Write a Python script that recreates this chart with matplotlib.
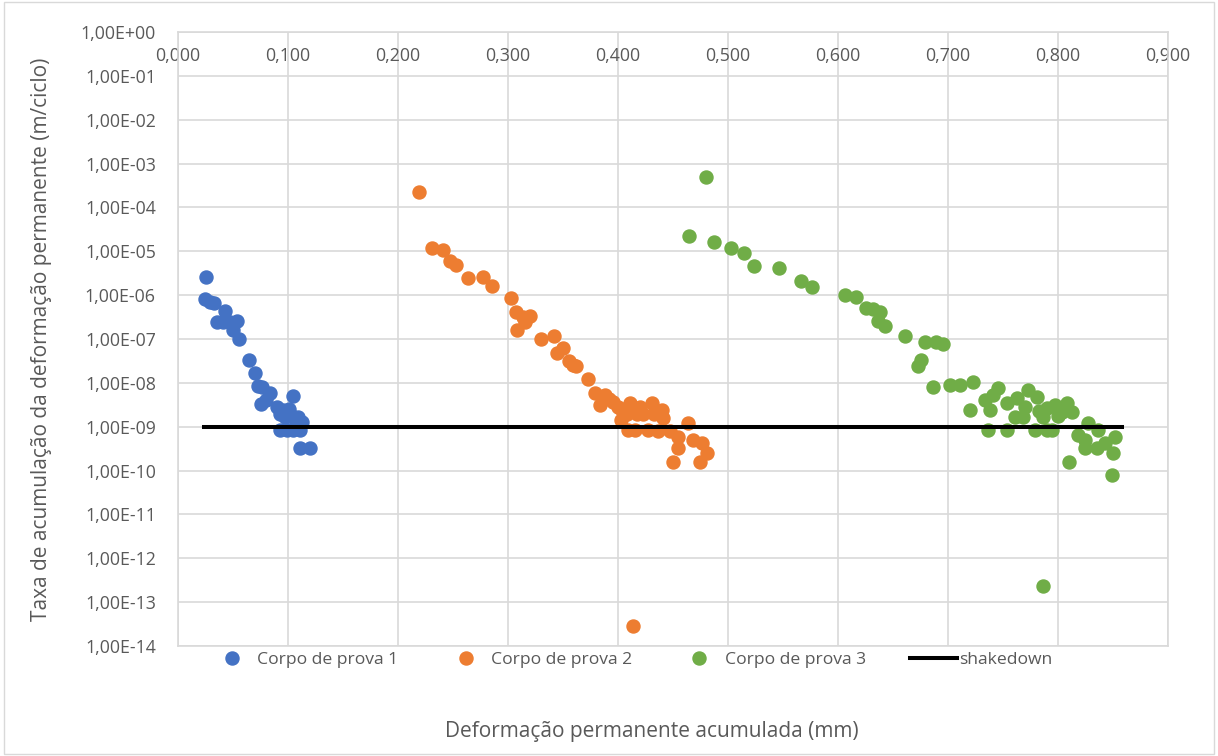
import numpy as np
import matplotlib
matplotlib.use("Agg")
import matplotlib.pyplot as plt
from matplotlib.ticker import FixedLocator, FuncFormatter, MultipleLocator
from matplotlib.lines import Line2D
from matplotlib.patches import Rectangle

plt.rcParams['font.family'] = ['Open Sans', 'DejaVu Sans']

# Corpo de prova 1
x1 = [0.0255, 0.0245, 0.029, 0.033, 0.043, 0.0355, 0.041, 0.047, 0.0535, 0.050,
      0.0555, 0.0645, 0.070, 0.0725, 0.0765, 0.0835, 0.0755, 0.080, 0.090, 0.1045,
      0.093, 0.097, 0.102, 0.109, 0.1125, 0.093, 0.099, 0.1045, 0.111, 0.111, 0.120,
      0.0955, 0.1005, 0.107]
y1 = [2.6e-6, 8.2e-7, 6.9e-7, 6.6e-7, 4.4e-7, 2.5e-7, 2.5e-7, 2.5e-7, 2.6e-7, 1.6e-7,
      1.0e-7, 3.3e-8, 1.7e-8, 8.5e-9, 8.1e-9, 5.9e-9, 3.3e-9, 4.1e-9, 2.8e-9, 5.0e-9,
      2.0e-9, 1.7e-9, 2.0e-9, 1.7e-9, 1.3e-9, 8.5e-10, 8.5e-10, 8.5e-10, 8.5e-10, 3.3e-10, 3.3e-10,
      2.4e-9, 2.6e-9, 1.2e-9]

# Corpo de prova 2
x2 = [0.219, 0.231, 0.241, 0.247, 0.2527, 0.2636, 0.277, 0.2855, 0.3027, 0.307,
      0.3136, 0.320, 0.3155, 0.308, 0.330, 0.342, 0.350, 0.345, 0.355, 0.359,
      0.3615, 0.3727, 0.379, 0.388, 0.3836, 0.395, 0.400, 0.411, 0.408, 0.417,
      0.431, 0.440, 0.441, 0.4227, 0.409, 0.415, 0.427, 0.436, 0.447, 0.464,
      0.4545, 0.468, 0.476, 0.4545, 0.481, 0.450, 0.4745, 0.4136, 0.392, 0.403,
      0.420, 0.433, 0.4025]
y2 = [2.2e-4, 1.2e-5, 1.07e-5, 6.0e-6, 4.9e-6, 2.5e-6, 2.6e-6, 1.6e-6, 8.7e-7, 4.2e-7,
      3.2e-7, 3.3e-7, 2.5e-7, 1.6e-7, 1.0e-7, 1.2e-7, 6.3e-8, 4.8e-8, 3.2e-8, 2.6e-8,
      2.4e-8, 1.2e-8, 5.9e-9, 5.3e-9, 3.1e-9, 3.7e-9, 2.8e-9, 3.5e-9, 2.0e-9, 2.0e-9,
      3.5e-9, 2.4e-9, 1.6e-9, 2.0e-9, 8.5e-10, 8.5e-10, 8.5e-10, 8.0e-10, 8.0e-10, 1.2e-9,
      5.9e-10, 5.0e-10, 4.3e-10, 3.3e-10, 2.5e-10, 1.6e-10, 1.6e-10, 2.9e-14, 4.2e-9, 2.6e-9,
      2.8e-9, 1.9e-9, 1.4e-9]

# Corpo de prova 3
x3 = [0.480, 0.4645, 0.487, 0.5027, 0.5145, 0.5236, 0.546, 0.566, 0.576, 0.606,
      0.616, 0.625, 0.6318, 0.638, 0.636, 0.6427, 0.661, 0.679, 0.689, 0.695,
      0.675, 0.6727, 0.6864, 0.7018, 0.711, 0.7227, 0.720, 0.7336, 0.738, 0.7455,
      0.741, 0.736, 0.7536, 0.7536, 0.7627, 0.761, 0.770, 0.7727, 0.781, 0.768,
      0.779, 0.790, 0.7945, 0.786, 0.790, 0.797, 0.808, 0.8036, 0.8127, 0.818,
      0.827, 0.836, 0.8245, 0.8245, 0.8354, 0.843, 0.852, 0.850, 0.810, 0.849,
      0.786, 0.783, 0.800]
y3 = [4.9e-4, 2.2e-5, 1.6e-5, 1.2e-5, 9.1e-6, 4.6e-6, 4.2e-6, 2.1e-6, 1.5e-6, 1.0e-6,
      9.1e-7, 5.1e-7, 4.8e-7, 4.2e-7, 2.6e-7, 2.0e-7, 1.2e-7, 8.5e-8, 8.5e-8, 7.7e-8,
      3.3e-8, 2.4e-8, 8.1e-9, 8.9e-9, 8.9e-9, 1.05e-8, 2.4e-9, 4.1e-9, 2.4e-9, 7.6e-9,
      5.3e-9, 8.5e-10, 8.5e-10, 3.5e-9, 4.5e-9, 1.7e-9, 2.8e-9, 6.9e-9, 4.8e-9, 1.7e-9,
      8.5e-10, 8.5e-10, 8.5e-10, 1.7e-9, 2.7e-9, 3.2e-9, 3.5e-9, 2.2e-9, 2.2e-9, 6.5e-10,
      1.2e-9, 8.5e-10, 5.0e-10, 3.3e-10, 3.3e-10, 4.3e-10, 5.9e-10, 2.5e-10, 1.6e-10, 7.9e-11,
      2.3e-13, 2.3e-9, 1.8e-9]

# linha de shakedown
shake_x = [0.024, 0.858]
shake_y = [1e-9, 1e-9]

fig = plt.figure(figsize=(12.18, 7.56), dpi=100)
ax = fig.add_axes([178/1218, 1 - 646/756, 990/1218, 614/756])

ax.scatter(x1, y1, s=88, color='#4472C4', zorder=3, label='Corpo de prova 1')
ax.scatter(x2, y2, s=88, color='#ED7D31', zorder=3, label='Corpo de prova 2')
ax.scatter(x3, y3, s=88, color='#70AD47', zorder=3, label='Corpo de prova 3')
ax.plot(shake_x, shake_y, color='black', lw=2.9, zorder=4, label='shakedown')

ax.set_yscale('log')
ax.set_ylim(1e-14, 1e0)
ax.set_xlim(0, 0.9)
ax.yaxis.set_major_locator(FixedLocator([10.0**k for k in range(-14, 1)]))
ax.yaxis.set_minor_locator(FixedLocator([]))

def fmt_y(v, pos):
    e = int(round(np.log10(v)))
    return '1,00E' + ('+' if e >= 0 else '-') + '%02d' % abs(e)

ax.yaxis.set_major_formatter(FuncFormatter(fmt_y))
ax.xaxis.set_major_locator(MultipleLocator(0.1))
ax.xaxis.set_major_formatter(FuncFormatter(lambda v, p: ('%.3f' % v).replace('.', ',')))
ax.xaxis.tick_top()

ax.grid(True, color='#D9D9D9', lw=1.2, zorder=0)
ax.set_axisbelow(True)
for s in ax.spines.values():
    s.set_color('#D9D9D9')
    s.set_linewidth(1.2)
ax.tick_params(axis='both', length=0, labelsize=12.8, labelcolor='#595959')
ax.tick_params(axis='y', pad=16)
ax.tick_params(axis='x', pad=-24)

ax.set_ylabel('Taxa de acumulação da deformação permanente (m/ciclo)', fontsize=15,
              color='#595959')
ax.yaxis.set_label_coords((52 - 178) / 990, 0.5)
fig.text(652/1218, 1 - 731/756, 'Deformação permanente acumulada (mm)', fontsize=15,
         color='#595959', ha='center', va='center')

handles = [Line2D([], [], marker='o', ls='', color='#4472C4', markersize=9.4),
           Line2D([], [], marker='o', ls='', color='#ED7D31', markersize=9.4),
           Line2D([], [], marker='o', ls='', color='#70AD47', markersize=9.4),
           Line2D([], [], color='black', lw=2.9)]
labels = ['Corpo de prova 1', 'Corpo de prova 2', 'Corpo de prova 3', 'shakedown']
leg = fig.legend(handles, labels, loc='center', bbox_to_anchor=(630/1218, 1 - 660/756),
                 ncol=4, frameon=False, fontsize=12.6, columnspacing=2.5, handletextpad=0.1,
                 handlelength=2.7)
for t in leg.get_texts():
    t.set_color('#595959')

fig.patches.append(Rectangle((0.003, 0.003), 0.994, 0.994, transform=fig.transFigure,
                             fill=False, edgecolor='#D9D9D9', lw=1))

fig.savefig('out.png', dpi=100)
